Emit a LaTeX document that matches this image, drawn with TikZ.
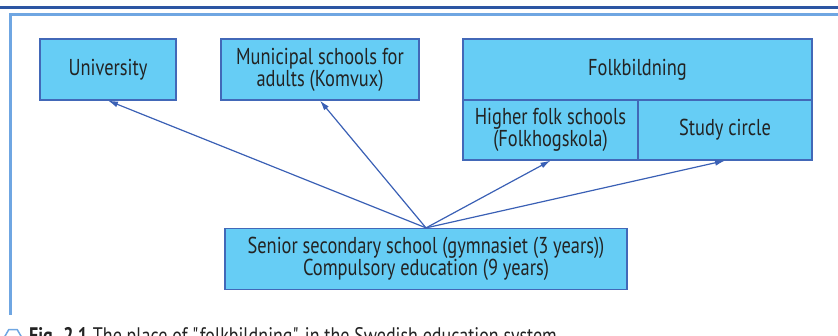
\documentclass[tikz,border=0pt]{standalone}
\usepackage{fontspec}
\setmainfont{PT Sans}[FakeStretch=0.8]
\usepackage{tikz}
\usetikzlibrary{arrows.meta}
\usetikzlibrary{shapes.geometric}

\definecolor{boxfill}{RGB}{102,205,245}
\definecolor{boxline}{RGB}{66,104,184}
\definecolor{arrowblue}{RGB}{58,96,181}
\definecolor{darkrule}{RGB}{44,86,163}
\definecolor{lightrule}{RGB}{111,166,226}
\definecolor{textgray}{RGB}{35,35,35}

\tikzset{
  eduBox/.style={draw=boxline, fill=boxfill, line width=1.2pt, inner sep=0pt,
    minimum height=61pt, align=center, text=textgray,
    font=\fontsize{23}{20.7}\selectfont},
  feeds/.style={-{Latex[length=10pt,width=6pt]}, draw=arrowblue, line width=1.2pt}
}

\begin{document}
\begin{tikzpicture}[x=1pt,y=-1pt]
  \useasboundingbox (0,0) rectangle (838,336);
  \clip (0,0) rectangle (838,336);
  % page rules
  \draw[line width=3pt, darkrule](0,8)--(838,8);
  \draw[line width=3pt, lightrule](10.5,315)--(10.5,15)--(838,15);

  \node[eduBox, minimum width=136pt] (univ) at (108,69.5) {University};
  \node[eduBox, minimum width=198pt] (komvux) at (320,69.5) {Municipal schools for\\adults (Komvux)};
  \node[eduBox, minimum width=349pt] (folk) at (637.5,69.5) {Folkbildning};
  \node[eduBox, minimum width=175pt, minimum height=60pt] (higher) at (550.5,130) {Higher folk schools\\(Folkhogskola)};
  \node[eduBox, minimum width=174pt, minimum height=60pt] (study) at (725,130) {Study circle};
  \node[eduBox, minimum width=402pt] (senior) at (426,259) {Senior secondary school (gymnasiet (3 years))\\Compulsory education (9 years)};

  \draw[feeds](senior.north)--(univ.south);
  \draw[feeds](senior.north)--(komvux.south);
  \draw[feeds](senior.north)--(higher.south);
  \draw[feeds](senior.north)--(study.south);

  % caption, cut off by the page
  \node[regular polygon, regular polygon sides=6, draw=lightrule, line width=1.5pt,
    minimum size=17pt, inner sep=0pt] (icon) at (13,337) {};
  \node[anchor=base west, inner sep=0pt, text=textgray,
    font=\fontsize{22.5}{24}\selectfont] (caption) at (29,344)
    {\textbf{Fig. 2.1} The place of \textquotedbl folkbildning\textquotedbl{} in the Swedish education system};
\end{tikzpicture}
\end{document}
